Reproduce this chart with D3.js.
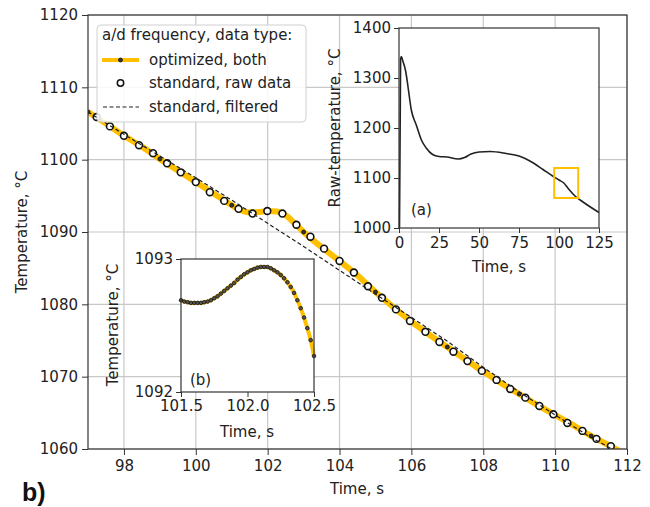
<!DOCTYPE html>
<html>
<head>
<meta charset="utf-8">
<script src="https://cdn.jsdelivr.net/npm/d3@7"></script>
<style>
  body { margin: 0; background: #fff; }
  svg, svg text { font-family: "DejaVu Sans", sans-serif; }
  .tick text { font-size: 15px; fill: #222; font-family: "DejaVu Sans", sans-serif; }
  .tick line { stroke: #333; }
  .domain { display: none; }
</style>
</head>
<body>
<svg id="chart" width="650" height="507"></svg>
<script>
// main plot: optimized (orange line), standard raw (circles), standard filtered (dashed)
const optTime = [97, 97.5, 98, 98.5, 99, 99.5, 100, 100.5, 101, 101.25, 101.5, 101.75, 102, 102.25, 102.5, 102.75, 103, 103.5, 104, 104.5, 105, 105.5, 106, 106.5, 107, 107.5, 108, 108.5, 109, 109.5, 110, 110.5, 111, 111.5, 111.8];
const optTemp = [1106.6, 1105.0, 1103.3, 1101.8, 1100.1, 1098.5, 1096.9, 1095.3, 1093.7, 1093.0, 1092.7, 1092.75, 1092.9, 1092.85, 1092.3, 1091.2, 1090.0, 1087.9, 1086.0, 1084.0, 1081.7, 1079.6, 1077.6, 1075.8, 1074.1, 1072.4, 1070.7, 1069.1, 1067.6, 1066.1, 1064.7, 1063.3, 1061.8, 1060.5, 1059.7];

const rawTime = [97.24, 97.61, 98.0, 98.42, 98.81, 99.2, 99.58, 100.0, 100.39, 100.79, 101.19, 101.58, 101.99, 102.41, 102.8, 103.19, 103.57, 104.0, 104.4, 104.79, 105.18, 105.57, 105.96, 106.39, 106.78, 107.17, 107.56, 107.96, 108.37, 108.75, 109.17, 109.56, 109.95, 110.34, 110.76, 111.15, 111.55];
const rawTemp = [1105.9, 1104.6, 1103.3, 1102.0, 1100.9, 1099.5, 1098.25, 1096.9, 1095.5, 1094.3, 1093.2, 1092.55, 1092.9, 1092.55, 1091.0, 1089.35, 1087.7, 1086.0, 1084.4, 1082.5, 1080.9, 1079.3, 1077.7, 1076.2, 1074.8, 1073.45, 1072.15, 1070.8, 1069.55, 1068.3, 1067.1, 1065.95, 1064.8, 1063.6, 1062.5, 1061.4, 1060.4];

const filtTime = [97, 98, 99, 100, 101, 102, 103, 104, 105, 106, 107, 108, 109, 110, 111, 111.8];
const filtTemp = [1106.6, 1103.5, 1100.5, 1097.5, 1094.4, 1091.2, 1088.0, 1084.7, 1081.4, 1078.2, 1074.9, 1071.3, 1067.9, 1064.7, 1061.6, 1059.4];

const mainXTicks = [98, 100, 102, 104, 106, 108, 110, 112];
const mainYTicks = [1060, 1070, 1080, 1090, 1100, 1110, 1120];

// inset (a): whole raw record
const fullTime = [0.3, 1.0, 1.5, 2.5, 4.2, 5.6, 7.7, 10.8, 14, 17, 21, 25, 30, 37, 41, 45, 50, 57, 67, 75, 84, 90, 96, 100, 103, 106, 110, 115, 125];
const fullTemp = [1000, 1338, 1343, 1333, 1313, 1283, 1236, 1206, 1176, 1160, 1147, 1143, 1142, 1138, 1141, 1148, 1152, 1153, 1149, 1144, 1130, 1117, 1104, 1096, 1090, 1078, 1064, 1052, 1031];
const aXTicks = [0, 25, 50, 75, 100, 125];
const aYTicks = [1000, 1100, 1200, 1300, 1400];

// inset (b): zoom on the bump, optimized samples
const zoomTime = d3.range(41).map(i => +(101.5 + i * 0.025).toFixed(3));
const zoomTemp = [1092.69, 1092.68, 1092.675, 1092.67, 1092.67, 1092.67, 1092.67, 1092.675, 1092.68, 1092.69,
  1092.705, 1092.72, 1092.74, 1092.76, 1092.78, 1092.80, 1092.82, 1092.845, 1092.865, 1092.885,
  1092.90, 1092.915, 1092.925, 1092.935, 1092.94, 1092.94, 1092.94, 1092.93, 1092.915, 1092.90,
  1092.88, 1092.855, 1092.825, 1092.79, 1092.745, 1092.69, 1092.63, 1092.56, 1092.48, 1092.39, 1092.27];
const bXTicks = [101.5, 102.0, 102.5];
const bYTicks = [1092, 1093];

const ORANGE = "#ffc000";
const svg = d3.select("#chart");
const zip = (a, b) => a.map((v, i) => [v, b[i]]);

// axis helper: d3 puts font-family/size on the group, so reset them
function styleAxis(g) {
  g.attr("font-family", null).attr("font-size", null);
}

// ---- main axes ----
const x = d3.scaleLinear().domain([97, 112]).range([88, 627]);
const y = d3.scaleLinear().domain([1060, 1120]).range([449, 15]);

svg.append("defs").append("clipPath").attr("id", "clipMain")
  .append("rect").attr("x", 88).attr("y", 15).attr("width", 539).attr("height", 434);

// grid
svg.append("g").selectAll("line").data(mainXTicks).join("line")
  .attr("x1", d => x(d)).attr("x2", d => x(d)).attr("y1", 15).attr("y2", 449)
  .attr("stroke", "#c8c8c8").attr("stroke-width", 1.2);
svg.append("g").selectAll("line").data(mainYTicks).join("line")
  .attr("x1", 88).attr("x2", 627).attr("y1", d => y(d)).attr("y2", d => y(d))
  .attr("stroke", "#c8c8c8").attr("stroke-width", 1.2);

svg.append("g").attr("transform", "translate(0,449)")
  .call(d3.axisBottom(x).tickValues(mainXTicks).tickFormat(d3.format("d")).tickSize(6).tickPadding(5))
  .call(styleAxis);
svg.append("g").attr("transform", "translate(88,0)")
  .call(d3.axisLeft(y).tickValues(mainYTicks).tickFormat(d3.format("d")).tickSize(6).tickPadding(4))
  .call(styleAxis);

const plot = svg.append("g").attr("clip-path", "url(#clipMain)");
const line = d3.line().x(d => x(d[0])).y(d => y(d[1])).curve(d3.curveMonotoneX);
plot.append("path").datum(zip(optTime, optTemp)).attr("d", line)
  .attr("fill", "none").attr("stroke", ORANGE).attr("stroke-width", 6);
plot.append("g").selectAll("circle").data(zip(optTime, optTemp).filter(d => Number.isInteger(d[0]))).join("circle")
  .attr("cx", d => x(d[0])).attr("cy", d => y(d[1])).attr("r", 2)
  .attr("fill", "#333").attr("stroke", "#111").attr("stroke-width", 0.8);
plot.append("g").selectAll("circle").data(zip(rawTime, rawTemp)).join("circle")
  .attr("cx", d => x(d[0])).attr("cy", d => y(d[1])).attr("r", 3.4)
  .attr("fill", "#fff").attr("stroke", "#111").attr("stroke-width", 1.6);
plot.append("path").datum(zip(filtTime, filtTemp)).attr("d", d3.line().x(d => x(d[0])).y(d => y(d[1])))
  .attr("fill", "none").attr("stroke", "#222").attr("stroke-width", 1.2).attr("stroke-dasharray", "4,2.5");

svg.append("rect").attr("x", 88).attr("y", 15).attr("width", 539).attr("height", 434)
  .attr("fill", "none").attr("stroke", "#333").attr("stroke-width", 1.2);

svg.append("text").attr("x", 357).attr("y", 494).attr("text-anchor", "middle")
  .attr("font-size", 15).attr("fill", "#222").text("Time, s");
svg.append("text").attr("transform", "translate(27,232) rotate(-90)").attr("text-anchor", "middle")
  .attr("font-size", 15).attr("fill", "#222").text("Temperature, °C");

// legend
const lg = svg.append("g");
lg.append("rect").attr("x", 97).attr("y", 25).attr("width", 209).attr("height", 97).attr("rx", 4)
  .attr("fill", "#fff").attr("fill-opacity", 0.85).attr("stroke", "#d0d0d0");
lg.append("text").attr("x", 102).attr("y", 40).attr("font-size", 15).attr("fill", "#222").text("a/d frequency, data type:");
lg.append("line").attr("x1", 102).attr("x2", 139).attr("y1", 60).attr("y2", 60).attr("stroke", ORANGE).attr("stroke-width", 4);
lg.append("circle").attr("cx", 120.5).attr("cy", 60).attr("r", 2).attr("fill", "#333").attr("stroke", "#111").attr("stroke-width", 0.8);
lg.append("circle").attr("cx", 120.5).attr("cy", 83).attr("r", 3.2).attr("fill", "#fff").attr("stroke", "#111").attr("stroke-width", 1.5);
lg.append("line").attr("x1", 103).attr("x2", 139).attr("y1", 107).attr("y2", 107).attr("stroke", "#222").attr("stroke-width", 1.2).attr("stroke-dasharray", "4,2.5");
[["optimized, both", 65], ["standard, raw data", 88], ["standard, filtered", 112]].forEach(([t, yy]) => {
  lg.append("text").attr("x", 149).attr("y", yy).attr("font-size", 15).attr("fill", "#222").text(t);
});

// ---- inset (a) ----
const ax = d3.scaleLinear().domain([0, 125]).range([399, 599]);
const ay = d3.scaleLinear().domain([1000, 1400]).range([228, 28]);
svg.append("rect").attr("x", 399).attr("y", 28).attr("width", 200).attr("height", 200).attr("fill", "#fff");
svg.append("g").attr("transform", "translate(0,228)")
  .call(d3.axisBottom(ax).tickValues(aXTicks).tickFormat(d3.format("d")).tickSize(5).tickPadding(4))
  .call(styleAxis);
svg.append("g").attr("transform", "translate(399,0)")
  .call(d3.axisLeft(ay).tickValues(aYTicks).tickFormat(d3.format("d")).tickSize(5).tickPadding(3))
  .call(styleAxis);
svg.append("path").datum(zip(fullTime, fullTemp))
  .attr("d", d3.line().x(d => ax(d[0])).y(d => ay(d[1])).curve(d3.curveMonotoneX))
  .attr("fill", "none").attr("stroke", "#222").attr("stroke-width", 1.6);
svg.append("rect").attr("x", ax(97)).attr("y", ay(1120)).attr("width", ax(112) - ax(97)).attr("height", ay(1060) - ay(1120))
  .attr("fill", "none").attr("stroke", ORANGE).attr("stroke-width", 2);
svg.append("rect").attr("x", 399).attr("y", 28).attr("width", 200).attr("height", 200)
  .attr("fill", "none").attr("stroke", "#333").attr("stroke-width", 1.2);
svg.append("text").attr("x", 411).attr("y", 215).attr("font-size", 15).attr("fill", "#222").text("(a)");
svg.append("text").attr("x", 499).attr("y", 272).attr("text-anchor", "middle").attr("font-size", 15).attr("fill", "#222").text("Time, s");
svg.append("text").attr("transform", "translate(340,128) rotate(-90)").attr("text-anchor", "middle")
  .attr("font-size", 15).attr("fill", "#222").text("Raw-temperature, °C");

// ---- inset (b) ----
const bx = d3.scaleLinear().domain([101.5, 102.5]).range([181, 314]);
const by = d3.scaleLinear().domain([1092, 1093]).range([392, 259]);
svg.append("rect").attr("x", 181).attr("y", 259).attr("width", 133).attr("height", 133).attr("fill", "#fff");
svg.append("g").attr("transform", "translate(0,392)")
  .call(d3.axisBottom(bx).tickValues(bXTicks).tickFormat(d3.format(".1f")).tickSize(5).tickPadding(3))
  .call(styleAxis);
svg.append("g").attr("transform", "translate(181,0)")
  .call(d3.axisLeft(by).tickValues(bYTicks).tickFormat(d3.format("d")).tickSize(5).tickPadding(3))
  .call(styleAxis);
svg.append("path").datum(zip(zoomTime, zoomTemp))
  .attr("d", d3.line().x(d => bx(d[0])).y(d => by(d[1])).curve(d3.curveMonotoneX))
  .attr("fill", "none").attr("stroke", ORANGE).attr("stroke-width", 4);
svg.append("g").selectAll("circle").data(zip(zoomTime, zoomTemp)).join("circle")
  .attr("cx", d => bx(d[0])).attr("cy", d => by(d[1])).attr("r", 1.8)
  .attr("fill", "#555").attr("stroke", "#111").attr("stroke-width", 0.8);
svg.append("rect").attr("x", 181).attr("y", 259).attr("width", 133).attr("height", 133)
  .attr("fill", "none").attr("stroke", "#333").attr("stroke-width", 1.2);
svg.append("text").attr("x", 190).attr("y", 385).attr("font-size", 15).attr("fill", "#222").text("(b)");
svg.append("text").attr("x", 247).attr("y", 437).attr("text-anchor", "middle").attr("font-size", 15).attr("fill", "#222").text("Time, s");
svg.append("text").attr("transform", "translate(118,325) rotate(-90)").attr("text-anchor", "middle")
  .attr("font-size", 15).attr("fill", "#222").text("Temperature, °C");

// panel letter
svg.append("text").attr("x", 22).attr("y", 501).style("font-family", "'Liberation Sans', Arial, sans-serif")
  .attr("font-weight", "bold").attr("font-size", 25).attr("fill", "#111").text("b)");
</script>
</body>
</html>
